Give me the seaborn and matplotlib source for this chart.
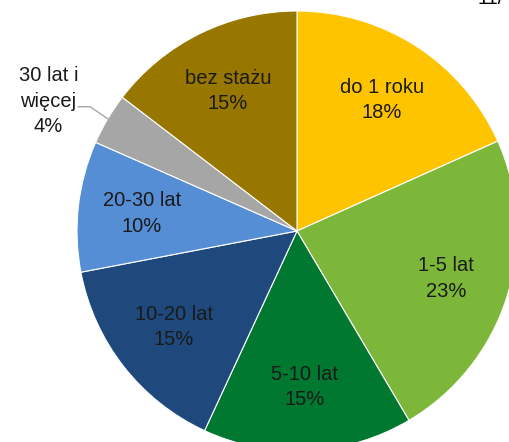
import numpy as np
import matplotlib
matplotlib.use("Agg")
import matplotlib.pyplot as plt
import seaborn as sns

# Staż pracy - udział
categories = ["do 1 roku", "1-5 lat", "5-10 lat", "10-20 lat", "20-30 lat", "30 lat i\nwięcej", "bez stażu"]
shares = [18.3, 23.2, 15.4, 15.1, 9.6, 3.8, 14.6]
pct_labels = ["18%", "23%", "15%", "15%", "10%", "4%", "15%"]
colors = ["#FFC400", "#7DB73A", "#00782F", "#1F497D", "#558ED5", "#A6A6A6", "#987700"]

sns.set_theme(style="white")
plt.rcParams["font.family"] = ["Liberation Sans", "DejaVu Sans"]

fig = plt.figure(figsize=(5.1, 4.42), dpi=100)
# środek koła ok. (297, 231) px, promień ok. 220 px
r_px = 220
cx, cy = 297, 231
ax = fig.add_axes([(cx - r_px) / 510, (442 - cy - r_px) / 442, 2 * r_px / 510, 2 * r_px / 442])

wedges, _ = ax.pie(
    shares,
    colors=sns.color_palette(colors),
    startangle=90,
    counterclock=False,
    radius=1,
    wedgeprops=dict(edgecolor="white", linewidth=0.8),
)
ax.set_xlim(-1, 1)
ax.set_ylim(-1, 1)
ax.set_aspect("equal")
ax.axis("off")

fs = 14.5
ls = 1.45
for i, w in enumerate(wedges):
    mid = np.deg2rad((w.theta1 + w.theta2) / 2)
    txt = categories[i] + "\n" + pct_labels[i]
    if pct_labels[i] == "4%":
        # etykieta na zewnątrz z linią odniesienia
        x0, y0 = 0.98 * np.cos(mid), 0.98 * np.sin(mid)
        ax.plot([x0, -0.941, -0.995], [y0, 0.565, 0.565], color="#A6A6A6", lw=1, clip_on=False)
        ax.text(-1.13, 0.59, txt, ha="center", va="center", fontsize=fs,
                linespacing=ls, color="#1a1a1a", clip_on=False)
    else:
        d = 0.71
        ax.text(d * np.cos(mid), d * np.sin(mid), txt, ha="center", va="center",
                fontsize=fs, linespacing=ls, color="#1a1a1a")

# ucięty numer strony w prawym górnym rogu
fig.text(478 / 510, 1 - 4 / 442, "11/", ha="left", va="baseline", fontsize=fs, color="black")

fig.savefig("out.png", dpi=100)
